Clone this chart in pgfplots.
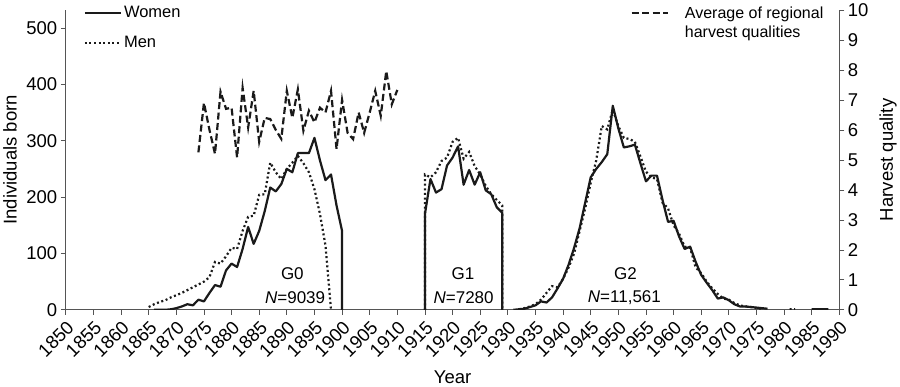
\documentclass[border=0pt]{standalone}
\usepackage{fontspec}
\setmainfont{Liberation Sans}
\usepackage{pgfplots}
\pgfplotsset{compat=1.18}
\definecolor{ink}{HTML}{1A1A1A}
\definecolor{axgray}{HTML}{555555}
\begin{document}
\begin{tikzpicture}[font=\fontsize{18.5}{22}\selectfont]
\pgfplotsset{
  every axis/.append style={
    scale only axis, width=771bp, height=299bp,
    xmin=1850, xmax=1990,
    /pgf/number format/assume math mode=true,
    tick label style={font=\fontsize{18.5}{22}\selectfont},
    label style={font=\fontsize{18.5}{22}\selectfont},
    tick align=outside,
    major tick length=5bp,
    axis line style={axgray, line width=0.7pt},
    tick style={axgray, line width=0.7pt},
    legend cell align=left,
    legend image code/.code={\draw[#1] (0bp,0bp) -- (36bp,0bp);},
  },
}
\begin{axis}[
  ymin=0, ymax=532,
  axis x line*=bottom, axis y line*=left,
  xtick={1850,1855,...,1990},
  xticklabel style={rotate=45, anchor=north east, /pgf/number format/set thousands separator={}},
  ytick={0,100,...,500},
  xlabel={Year}, ylabel={Individuals born},
  xlabel style={at={(axis description cs:0.5,-0.224)}, anchor=center},
  ylabel style={at={(axis description cs:-0.072,0.5)}, anchor=center},
  unbounded coords=jump,
  legend style={at={(0.019,1.025)}, anchor=north west, draw=none, fill=none, row sep=13pt,
    font=\fontsize{16.5}{20}\selectfont},
]
\addplot[ink, line width=2.2pt, line join=round] coordinates {
(1866,0)(1867,0)(1868,0)(1869,1)(1870,3)(1871,6)(1872,10)(1873,8)(1874,18)(1875,15)
(1876,30)(1877,44)(1878,41)(1879,70)(1880,82)(1881,76)(1882,108)(1883,147)(1884,117)(1885,140)
(1886,175)(1887,217)(1888,210)(1889,223)(1890,250)(1891,244)(1892,278)(1893,278)(1894,278)(1895,305)
(1896,265)(1897,230)(1898,240)(1899,185)(1900,140)(1900,0)
(1901,nan)
(1915,0)(1915,170)(1916,232)(1917,208)(1918,214)(1919,256)(1920,270)(1921,290)(1922,222)(1923,248)
(1924,222)(1925,244)(1926,212)(1927,205)(1928,182)(1929,172)(1929,0)
(1930,nan)
(1931,0)(1932,1)(1933,2)(1934,5)(1935,8)(1936,15)(1937,13)(1938,22)(1939,38)(1940,55)
(1941,80)(1942,110)(1943,145)(1944,190)(1945,235)(1946,250)(1947,262)(1948,276)(1949,362)(1950,322)
(1951,288)(1952,290)(1953,293)(1954,260)(1955,228)(1956,238)(1957,238)(1958,195)(1959,156)(1960,158)
(1961,130)(1962,108)(1963,112)(1964,85)(1965,62)(1966,48)(1967,35)(1968,20)(1969,22)(1970,17)
(1971,10)(1972,6)(1973,6)(1974,5)(1975,4)(1976,3)(1977,2)
(1978,nan)
(1985,1)(1986,1)(1987,1)(1988,1)
};
\addlegendentry{Women}
\addplot[ink, line width=2.2pt, dash pattern=on 2pt off 2.6pt] coordinates {
(1865,5)(1866,10)(1867,14)(1868,17)(1869,22)(1870,26)(1871,30)(1872,35)(1873,40)(1874,45)
(1875,50)(1876,58)(1877,85)(1878,82)(1879,95)(1880,110)(1881,108)(1882,140)(1883,165)(1884,167)
(1885,204)(1886,205)(1887,261)(1888,244)(1889,232)(1890,250)(1891,261)(1892,273)(1893,260)(1894,244)
(1895,214)(1896,170)(1897,114)(1898,0)
(1899,nan)
(1915,0)(1915,240)(1916,235)(1917,244)(1918,264)(1919,270)(1920,298)(1921,305)(1922,268)(1923,280)
(1924,255)(1925,240)(1926,220)(1927,205)(1928,195)(1929,185)(1929,0)
(1930,nan)
(1932,1)(1933,3)(1934,6)(1935,10)(1936,18)(1937,30)(1938,42)(1939,40)(1940,55)(1941,75)
(1942,100)(1943,140)(1944,180)(1945,225)(1946,265)(1947,326)(1948,320)(1949,355)(1950,326)(1951,305)
(1952,303)(1953,298)(1954,272)(1955,245)(1956,235)(1957,232)(1958,190)(1959,180)(1960,150)(1961,135)
(1962,112)(1963,110)(1964,75)(1965,65)(1966,50)(1967,38)(1968,28)(1969,20)(1970,18)(1971,12)
(1972,8)(1973,6)(1974,5)(1975,3)(1976,2)
(1977,nan)
(1981,1)(1982,1)
};
\addlegendentry{Men}
\begin{scope}[font=\fontsize{17}{20}\selectfont]
\node at (axis cs:1891,64) {G0};
\node at (axis cs:1891.5,21) {\textit{N}=9039};
\node at (axis cs:1921.9,64) {G1};
\node at (axis cs:1922,21) {\textit{N}=7280};
\node at (axis cs:1951.3,64) {G2};
\node at (axis cs:1951.1,21) {\textit{N}=11,561};
\end{scope}
\end{axis}
\begin{axis}[
  ymin=0, ymax=10,
  axis y line*=right, axis x line=none,
  ytick={0,1,...,10},
  ylabel={Harvest quality},
  ylabel style={at={(axis description cs:1.063,0.5)}, anchor=center},
  legend style={at={(0.726,1.025)}, anchor=north west, draw=none, fill=none,
    font=\fontsize{16}{19}\selectfont},
]
\addplot[ink, line width=2.2pt, dash pattern=on 7pt off 3.5pt] coordinates {
(1874,5.25)(1875,6.9)(1876,6.0)(1877,5.2)(1878,7.27)(1879,6.7)(1880,6.74)(1881,5.08)(1882,7.4)(1883,6.08)
(1884,7.3)(1885,5.6)(1886,6.4)(1887,6.36)(1888,6.0)(1889,5.7)(1890,7.3)(1891,6.4)(1892,7.35)(1893,5.97)
(1894,6.64)(1895,6.25)(1896,6.74)(1897,6.58)(1898,7.3)(1899,5.36)(1900,7.0)(1901,5.9)(1902,5.69)(1903,6.58)
(1904,5.9)(1905,6.58)(1906,7.3)(1907,6.47)(1908,7.96)(1909,6.85)(1910,7.33)
};
\addlegendentry{\hspace{14bp}\rlap{\raisebox{-19bp}[0pt][0pt]{harvest qualities}}Average of regional}
\end{axis}
\end{tikzpicture}
\end{document}
